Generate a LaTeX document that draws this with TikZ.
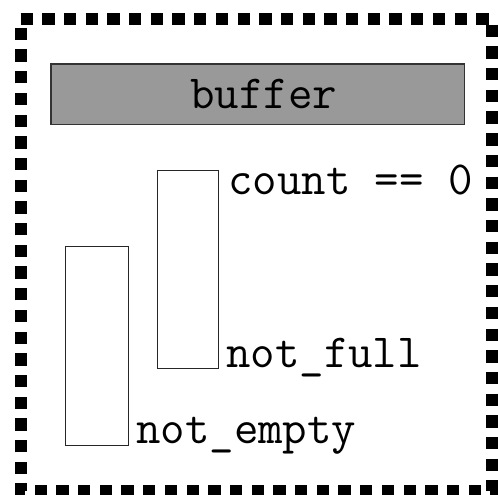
\documentclass[tikz,border=0pt]{standalone}
\usepackage{fontspec}
\begin{document}
\begin{tikzpicture}[x=1pt,y=-1pt,
  frame/.style={line width=12pt,dash pattern=on 12.3pt off 9.4pt,black},
  bufbox/.style={draw=black!80,line width=1.2pt,fill=black!40},
  condbox/.style={draw=black!85,line width=1pt,fill=white},
  lbl/.style={inner sep=0pt,anchor=base west,font=\fontsize{47.5}{52}\selectfont\ttfamily}]
\useasboundingbox (0,0) rectangle (498,495);
\draw[frame] (20.5,18.8) -- (492,18.8) -- (492,491) -- (20.5,491) -- cycle;
\draw[bufbox] (51,64) rectangle (464.5,124.8);
\node[lbl] (buf) at (190,108) {buffer};
\draw[condbox] (157.3,170.3) rectangle (218.5,368.5);
\draw[condbox] (65.3,246.7) rectangle (128,445);
\node[lbl] (cnt) at (228,194.5) {count == 0};
\node[lbl] (nf) at (226,367.5) {not\_full};
\node[lbl] (ne) at (136,443.5) {not\_empty};
\end{tikzpicture}
\end{document}
